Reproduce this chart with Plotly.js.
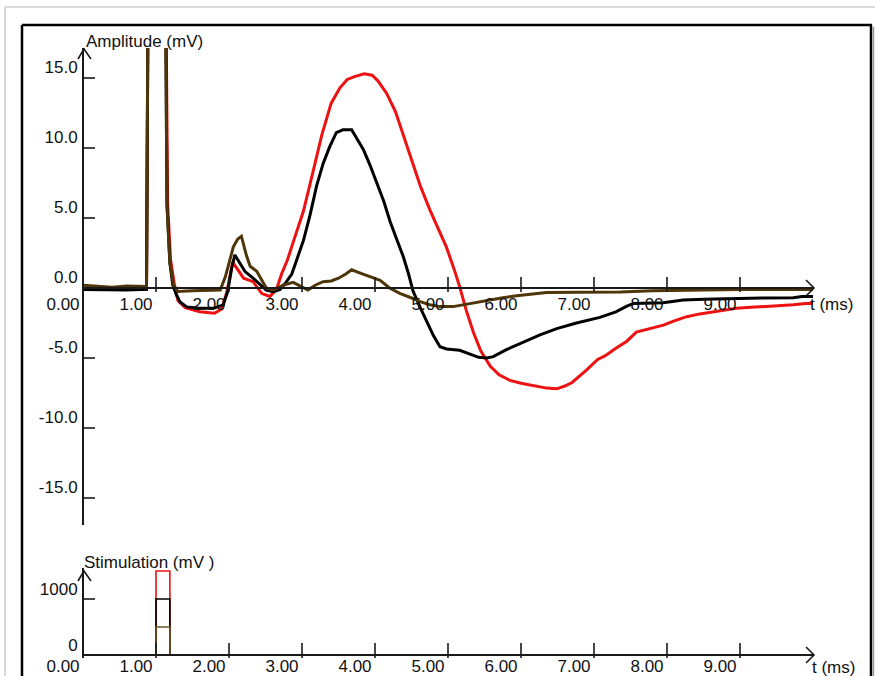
<!DOCTYPE html>
<html>
<head>
<meta charset="utf-8">
<script src="https://cdn.plot.ly/plotly-3.0.1.min.js"></script>
<style>
html,body{margin:0;padding:0;background:#fff;}
#chart{width:875px;height:676px;}
</style>
</head>
<body>
<div id="chart"></div>
<script>
// ---------------- data ----------------
const redT = [0.00,0.30,0.60,0.87,0.90,1.12,1.16,1.20,1.25,1.30,1.40,1.60,1.80,1.90,1.97,2.05,2.12,2.20,2.33,2.45,2.56,2.65,2.72,2.80,2.90,3.02,3.16,3.27,3.40,3.52,3.62,3.72,3.85,3.96,4.04,4.16,4.28,4.40,4.50,4.62,4.75,4.88,4.98,5.08,5.16,5.25,5.35,5.45,5.58,5.70,5.85,6.00,6.17,6.35,6.49,6.60,6.70,6.80,6.90,7.05,7.15,7.30,7.45,7.58,7.75,7.95,8.10,8.27,8.45,8.63,8.80,8.95,9.15,9.32,9.55,9.73,9.90,10.00];
const redV = [-0.05,-0.10,-0.10,-0.10,30,30,6.0,2.0,0.3,-0.9,-1.4,-1.7,-1.8,-1.5,-0.3,1.85,1.3,0.7,0.45,-0.4,-0.6,-0.1,1.0,2.0,3.6,5.5,8.5,10.9,13.2,14.3,14.9,15.1,15.3,15.2,14.8,13.9,12.6,10.7,9.1,7.3,5.6,4.0,2.9,1.4,0.1,-1.6,-3.2,-4.5,-5.6,-6.2,-6.6,-6.8,-6.95,-7.15,-7.2,-7.0,-6.75,-6.3,-5.85,-5.1,-4.85,-4.3,-3.8,-3.15,-2.9,-2.65,-2.35,-2.05,-1.85,-1.7,-1.55,-1.45,-1.38,-1.33,-1.28,-1.2,-1.1,-1.1];

const blackT = [0.00,0.30,0.60,0.87,0.90,1.12,1.15,1.19,1.23,1.28,1.33,1.42,1.60,1.79,1.92,1.98,2.04,2.08,2.15,2.22,2.33,2.42,2.51,2.61,2.70,2.78,2.86,2.94,3.02,3.11,3.20,3.29,3.38,3.47,3.56,3.68,3.76,3.84,3.93,4.02,4.12,4.21,4.30,4.39,4.46,4.52,4.62,4.71,4.80,4.89,4.98,5.16,5.30,5.42,5.53,5.62,5.80,6.03,6.26,6.49,6.76,7.08,7.30,7.45,7.54,7.95,8.22,8.50,8.91,9.30,9.73,9.85,10.00];
const blackV = [-0.10,-0.15,-0.15,-0.10,30,30,6.0,1.8,0.2,-0.5,-1.0,-1.35,-1.45,-1.45,-1.2,-0.3,1.5,2.36,1.76,1.17,0.7,0.3,-0.15,-0.26,-0.1,0.4,1.0,2.2,3.4,5.2,7.3,8.9,10.1,11.1,11.3,11.3,10.6,9.9,8.8,7.6,6.2,4.7,3.4,2.2,1.0,-0.2,-1.4,-2.4,-3.4,-4.2,-4.35,-4.45,-4.75,-4.95,-5.0,-4.9,-4.4,-3.85,-3.35,-2.9,-2.5,-2.1,-1.7,-1.3,-1.1,-1.05,-0.86,-0.8,-0.74,-0.72,-0.7,-0.6,-0.6];

const brownT = [0.00,0.20,0.40,0.60,0.80,0.87,0.90,1.12,1.15,1.19,1.24,1.30,1.50,1.70,1.88,1.95,2.01,2.06,2.12,2.17,2.24,2.29,2.38,2.45,2.51,2.61,2.74,2.88,3.02,3.08,3.18,3.29,3.40,3.50,3.60,3.68,3.78,3.89,4.07,4.20,4.34,4.52,4.62,4.75,4.89,5.07,5.21,5.35,5.53,5.75,5.94,6.15,6.35,6.80,7.36,7.80,8.20,8.60,9.00,9.50,10.00];
const brownV = [0.20,0.10,0.05,0.15,0.10,0.10,30,30,6.0,1.8,0.2,-0.25,-0.2,-0.2,-0.15,0.8,2.0,2.95,3.5,3.7,2.3,1.55,1.2,0.6,0.0,-0.15,0.2,0.4,0.0,-0.15,0.2,0.45,0.5,0.7,1.0,1.3,1.1,0.9,0.55,0.0,-0.38,-0.75,-0.98,-1.2,-1.33,-1.33,-1.2,-1.05,-0.86,-0.7,-0.55,-0.45,-0.32,-0.3,-0.28,-0.2,-0.15,-0.15,-0.1,-0.1,-0.1];

const stimT     = [0, 1.0, 1.0, 1.19, 1.19, 10];
const stimRed   = [0, 0, 1500, 1500, 0, 0];
const stimBlack = [0, 0, 1000, 1000, 0, 0];
const stimBrown = [0, 0, 500, 500, 0, 0];

const xTickVals = [0,1,2,3,4,5,6,7,8,9];
const xTickText = ['0.00','1.00','2.00','3.00','4.00','5.00','6.00','7.00','8.00','9.00'];
const yTickVals = [-15,-10,-5,0,5,10,15];
const yTickText = ['-15.0','-10.0','-5.0','0.0','5.0','10.0','15.0'];
const sTickVals = [0,1000];
const sTickText = ['0','1000'];

const ampTitle = 'Amplitude (mV)';
const stimTitle = 'Stimulation (mV )';
const timeTitle = 't (ms)';

// ---------------- layout helpers (pixels -> paper) ----------------
const W = 875, H = 676;
const fx = p => p / W;
const fy = p => 1 - p / H;

const RED = '#ee1111', BLACK = '#000000', BROWN = '#4e3608';
const FONT = 'Liberation Sans, Arial, sans-serif';
const AX = '#1a1a1a';

// main panel: t=0 at 83px, t=10 at 813px; 0 mV at 288px, 14 px per mV
const mainTop = 48, mainBot = 525, zeroMain = 288, pxPerMV = 14;
const yMainRange = [(zeroMain - mainBot) / pxPerMV, (zeroMain - mainTop) / pxPerMV];
// stimulation panel: 0 at 655px, 1000 at 599px
const stimTop = 568, stimBot = 658, zeroStim = 655, pxPerS = 56 / 1000;
const yStimRange = [(zeroStim - stimBot) / pxPerS, (zeroStim - stimTop) / pxPerS];

const traces = [
  {x: redT, y: redV, mode: 'lines', line: {color: RED, width: 3}, xaxis: 'x', yaxis: 'y', hoverinfo: 'skip'},
  {x: blackT, y: blackV, mode: 'lines', line: {color: BLACK, width: 3}, xaxis: 'x', yaxis: 'y', hoverinfo: 'skip'},
  {x: brownT, y: brownV, mode: 'lines', line: {color: BROWN, width: 3}, xaxis: 'x', yaxis: 'y', hoverinfo: 'skip'},
  {x: stimT, y: stimRed, mode: 'lines', line: {color: RED, width: 1.6}, xaxis: 'x2', yaxis: 'y2', hoverinfo: 'skip'},
  {x: stimT, y: stimBlack, mode: 'lines', line: {color: BLACK, width: 1.6}, xaxis: 'x2', yaxis: 'y2', hoverinfo: 'skip'},
  {x: stimT, y: stimBrown, mode: 'lines', line: {color: '#6b5228', width: 1.6}, xaxis: 'x2', yaxis: 'y2', hoverinfo: 'skip'}
];

const tickFont = {family: FONT, size: 17, color: '#111'};

function xAxis(pos, standoff) {
  return {
    domain: [fx(83), fx(813)], range: [0, 10], anchor: 'free', position: pos,
    showline: true, linecolor: AX, linewidth: 2, showgrid: false, zeroline: false,
    ticks: '', tickvals: xTickVals, ticktext: xTickText, tickfont: tickFont,
    ticklabelshift: -20, ticklabelstandoff: standoff, fixedrange: true
  };
}
function yAxis(domain, range, vals, text, shift) {
  return {
    domain: domain, range: range, anchor: 'free', position: fx(83),
    showline: true, linecolor: AX, linewidth: 2, showgrid: false, zeroline: false,
    ticks: '', tickvals: vals, ticktext: text, tickfont: tickFont,
    ticklabelshift: shift, ticklabelstandoff: 1, fixedrange: true
  };
}

const shapes = [];
// outer light frame and black window frame
shapes.push({type: 'line', xref: 'paper', yref: 'paper', x0: fx(5), x1: 1.01, y0: fy(7), y1: fy(7), line: {color: '#d9d9d9', width: 2}});
shapes.push({type: 'line', xref: 'paper', yref: 'paper', x0: fx(5), x1: fx(5), y0: fy(7), y1: -0.01, line: {color: '#d9d9d9', width: 2}});
shapes.push({type: 'line', xref: 'paper', yref: 'paper', x0: fx(22), x1: fx(872), y0: fy(25), y1: fy(25), line: {color: '#000', width: 2.5}});
shapes.push({type: 'line', xref: 'paper', yref: 'paper', x0: fx(22), x1: fx(22), y0: fy(25), y1: -0.01, line: {color: '#000', width: 2.5}});
shapes.push({type: 'line', xref: 'paper', yref: 'paper', x0: fx(871), x1: fx(871), y0: fy(25), y1: -0.01, line: {color: '#000', width: 2.5}});
shapes.push({type: 'line', xref: 'paper', yref: 'paper', x0: fx(873.5), x1: fx(873.5), y0: fy(27), y1: -0.01, line: {color: '#9a9a9a', width: 1.5}});

// tick marks (crossing the axes), anchored on the axis values
xTickVals.filter(v => v > 0).forEach(v => {
  shapes.push({type: 'line', xref: 'x', yref: 'y', ysizemode: 'pixel', yanchor: 0, x0: v, x1: v, y0: -4, y1: 11, line: {color: AX, width: 1.6}});
  shapes.push({type: 'line', xref: 'x2', yref: 'y2', ysizemode: 'pixel', yanchor: 0, x0: v, x1: v, y0: -6, y1: 12, line: {color: AX, width: 1.6}});
});
yTickVals.forEach(v => {
  shapes.push({type: 'line', xref: 'x', yref: 'y', xsizemode: 'pixel', xanchor: 0, x0: -10, x1: 12, y0: v, y1: v, line: {color: AX, width: 1.6}});
});
sTickVals.filter(v => v > 0).forEach(v => {
  shapes.push({type: 'line', xref: 'x2', yref: 'y2', xsizemode: 'pixel', xanchor: 0, x0: -10, x1: 12, y0: v, y1: v, line: {color: AX, width: 1.6}});
});

// arrow heads at axis ends
function chevronUp(px, py) {
  return {type: 'path', xref: 'paper', yref: 'paper',
    path: `M ${fx(px - 6)} ${fy(py + 10)} L ${fx(px)} ${fy(py)} L ${fx(px + 7)} ${fy(py + 10)}`,
    line: {color: AX, width: 1.6}};
}
function chevronRight(px, py) {
  return {type: 'path', xref: 'paper', yref: 'paper',
    path: `M ${fx(px - 8)} ${fy(py - 8)} L ${fx(px)} ${fy(py)} L ${fx(px - 8)} ${fy(py + 8)}`,
    line: {color: AX, width: 1.6}};
}
shapes.push(chevronUp(84, 49));
shapes.push(chevronUp(84, 571));
shapes.push(chevronRight(814, zeroMain));
shapes.push(chevronRight(814, zeroStim));
shapes.push({type: 'line', xref: 'paper', yref: 'paper', x0: fx(83.5), x1: fx(83.5), y0: fy(mainTop), y1: fy(49), line: {color: AX, width: 2}});

const annotations = [
  {text: ampTitle, xref: 'paper', yref: 'paper', x: fx(84), y: fy(42), xanchor: 'left', yanchor: 'middle', showarrow: false, font: {family: FONT, size: 17, color: '#111'}},
  {text: stimTitle, xref: 'paper', yref: 'paper', x: fx(82), y: fy(562), xanchor: 'left', yanchor: 'middle', showarrow: false, font: {family: FONT, size: 17, color: '#111'}},
  {text: timeTitle, xref: 'paper', yref: 'paper', x: fx(808), y: fy(304), xanchor: 'left', yanchor: 'middle', showarrow: false, font: {family: FONT, size: 17, color: '#111'}},
  {text: timeTitle, xref: 'paper', yref: 'paper', x: fx(810), y: fy(667), xanchor: 'left', yanchor: 'middle', showarrow: false, font: {family: FONT, size: 17, color: '#111'}}
];

const layout = {
  width: W, height: H,
  margin: {l: 0, r: 0, t: 0, b: 0, pad: 0},
  paper_bgcolor: '#ffffff', plot_bgcolor: 'rgba(0,0,0,0)',
  showlegend: false,
  font: {family: FONT, size: 17, color: '#111'},
  xaxis: xAxis(fy(zeroMain), 1),
  yaxis: yAxis([fy(mainBot), fy(mainTop)], yMainRange, yTickVals, yTickText, -11),
  xaxis2: xAxis(fy(zeroStim), -4),
  yaxis2: yAxis([fy(stimBot), fy(stimTop)], yStimRange, sTickVals, sTickText, -10),
  shapes: shapes,
  annotations: annotations
};

Plotly.newPlot('chart', traces, layout, {staticPlot: true, displayModeBar: false});
</script>
</body>
</html>
